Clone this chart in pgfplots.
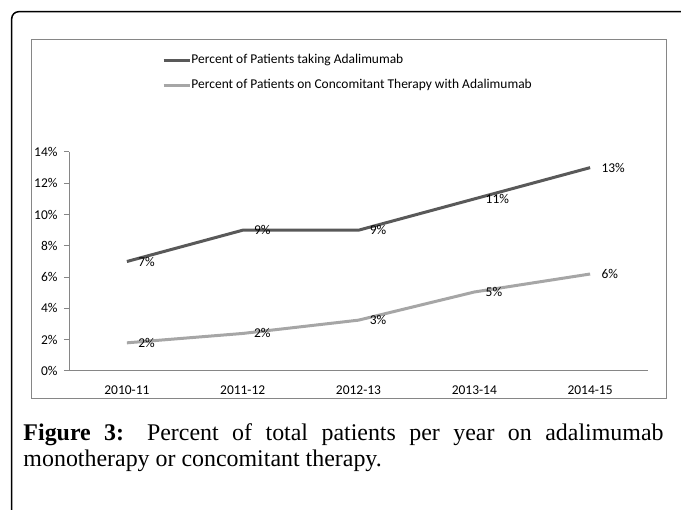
\documentclass[border=0pt]{standalone}
\usepackage{pgfplots}
\pgfplotsset{compat=1.18}
\usepackage{fontspec}
\setmainfont{Carlito}
\newfontfamily\capfont{Liberation Serif}
\definecolor{darkline}{HTML}{595959}
\definecolor{lightline}{HTML}{A6A6A6}
\definecolor{axisgray}{HTML}{868686}
\begin{document}
\begin{tikzpicture}
\begin{axis}[
  scale only axis, width=579bp, height=219bp,
  xmin=-0.5, xmax=4.5, ymin=0, ymax=14,
  ytick={0,2,...,14},
  yticklabel={\pgfmathprintnumber{\tick}\%},
  xtick={0,...,4}, xticklabels={2010-11,2011-12,2012-13,2013-14,2014-15},
  axis x line*=bottom, axis y line*=left,
  axis line style={axisgray, line width=1bp, -},
  x tick style={draw=none},
  y tick style={axisgray, line width=1bp},
  tick align=outside, major tick length=5bp,
  ticklabel style={font=\fontsize{13.5}{16}\selectfont, text=black},
  yticklabel style={xshift=-3bp},
  xticklabel style={yshift=-6.5bp},
  /pgf/number format/assume math mode=true,
  legend style={at={(axis description cs:0.1606,1.447)}, anchor=north west,
    draw=none, fill=none, inner sep=0pt, row sep=12.3bp, column sep=0pt,
    font=\fontsize{13.5}{16}\selectfont,
    nodes={inner sep=0.3bp, text height=9bp, text depth=3bp}},
  legend cell align=left,
  legend image code/.code={\draw[#1] (0bp,0bp) -- (26bp,0bp);},
  nodes near coords={\pgfmathprintnumber[fixed,precision=0]{\pgfplotspointmeta}\%},
  every node near coord/.append style={anchor=west, xshift=6.6bp, font=\fontsize{13.5}{16}\selectfont, text=black},
  clip=false,
]
\addplot[darkline, line width=3bp, mark=none] coordinates {(0,7) (1,9) (2,9) (3,11) (4,13)};
\addlegendentry{Percent of Patients taking Adalimumab}
\addplot[lightline, line width=3bp, mark=none] coordinates {(0,1.8) (1,2.4) (2,3.25) (3,5.05) (4,6.2)};
\addlegendentry{Percent of Patients on Concomitant Therapy with Adalimumab}
\coordinate (O) at (rel axis cs:0,0);
\end{axis}
\begin{scope}[x=1bp, y=1bp, shift={(O)}, shift={(-69bp,-139bp)}]
\draw[line width=1.5bp, rounded corners=7bp] (11.7,0) -- (11.7,498.3) -- (681,498.3);
\draw[axisgray, line width=1bp] (31.7,111.7) rectangle (666,470.7);
\node[anchor=north west, text width=640bp, align=justify, inner sep=0pt, font=\capfont\fontsize{24}{27}\selectfont] at (23.3,87)
  {\hyphenpenalty=10000 \textbf{Figure 3:} Percent of total patients per year on adalimumab monotherapy or concomitant therapy.};
\pgfresetboundingbox
\useasboundingbox (0,0) rectangle (681,510);
\end{scope}
\end{tikzpicture}
\end{document}
